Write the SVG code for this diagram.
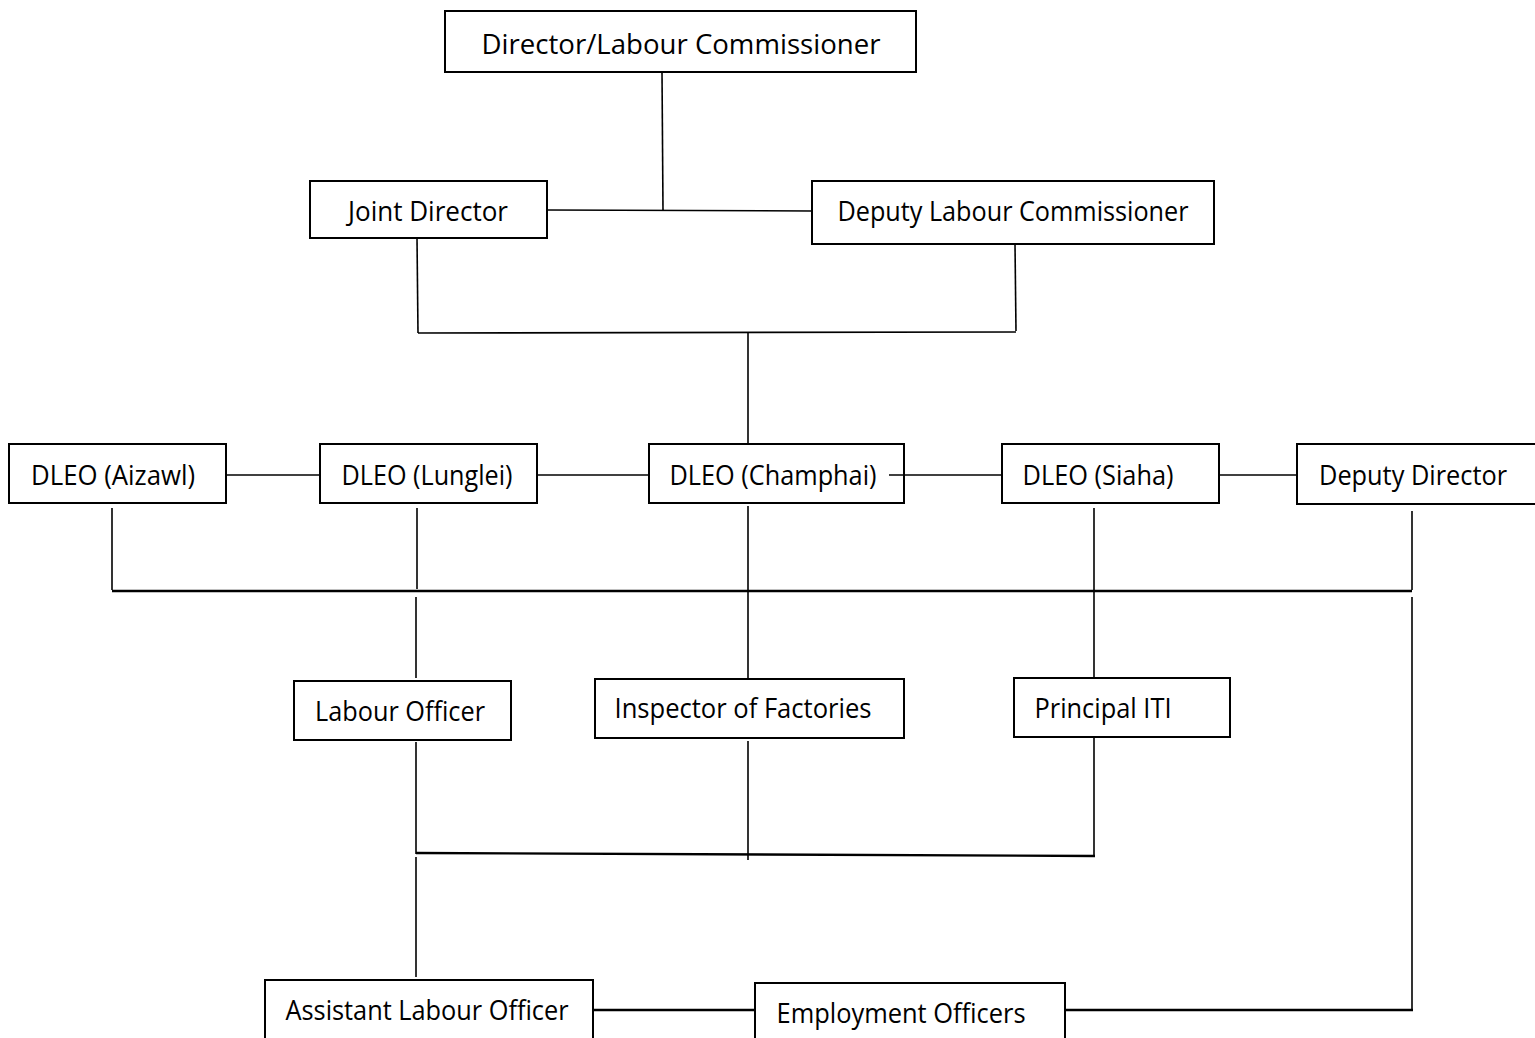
<svg xmlns="http://www.w3.org/2000/svg" width="1535" height="1038" viewBox="0 0 1535 1038">
<style>
.box{fill:#fff;stroke:#000;stroke-width:2}
.lbl{font-family:"Open Sans","Liberation Sans",sans-serif;font-size:28px;fill:#000;text-anchor:middle}
.ln{stroke:#000;stroke-width:1.6;fill:none}
.thick{stroke-width:2.4}
</style>
<rect width="1535" height="1038" fill="#fff"/>
<g id="n-director"><rect class="box" x="445" y="11" width="471" height="61"/><text class="lbl" x="681" y="54" textLength="399" lengthAdjust="spacingAndGlyphs">Director/Labour Commissioner</text></g>
<g id="n-joint"><rect class="box" x="310" y="181" width="237" height="57"/><text class="lbl" x="428" y="221" textLength="160" lengthAdjust="spacingAndGlyphs">Joint Director</text></g>
<g id="n-dlc"><rect class="box" x="812" y="181" width="402" height="63"/><text class="lbl" x="1013" y="221" textLength="351" lengthAdjust="spacingAndGlyphs">Deputy Labour Commissioner</text></g>
<g id="n-aizawl"><rect class="box" x="9" y="444" width="217" height="59"/><text class="lbl" x="113" y="485" textLength="164" lengthAdjust="spacingAndGlyphs">DLEO (Aizawl)</text></g>
<g id="n-lunglei"><rect class="box" x="320" y="444" width="217" height="59"/><text class="lbl" x="427" y="485" textLength="171" lengthAdjust="spacingAndGlyphs">DLEO (Lunglei)</text></g>
<g id="n-champhai"><rect class="box" x="649" y="444" width="255" height="59"/><text class="lbl" x="773" y="485" textLength="207" lengthAdjust="spacingAndGlyphs">DLEO (Champhai)</text></g>
<g id="n-siaha"><rect class="box" x="1002" y="444" width="217" height="59"/><text class="lbl" x="1098" y="485" textLength="151" lengthAdjust="spacingAndGlyphs">DLEO (Siaha)</text></g>
<g id="n-deputydir"><rect class="box" x="1297" y="444" width="240" height="60"/><text class="lbl" x="1413" y="485" textLength="188" lengthAdjust="spacingAndGlyphs">Deputy Director</text></g>
<g id="n-labourofficer"><rect class="box" x="294" y="681" width="217" height="59"/><text class="lbl" x="400" y="721" textLength="170" lengthAdjust="spacingAndGlyphs">Labour Officer</text></g>
<g id="n-inspector"><rect class="box" x="595" y="679" width="309" height="59"/><text class="lbl" x="743" y="718" textLength="257" lengthAdjust="spacingAndGlyphs">Inspector of Factories</text></g>
<g id="n-principal"><rect class="box" x="1014" y="678" width="216" height="59"/><text class="lbl" x="1103" y="718" textLength="137" lengthAdjust="spacingAndGlyphs">Principal ITI</text></g>
<g id="n-alo"><rect class="box" x="265" y="980" width="328" height="70"/><text class="lbl" x="427" y="1020" textLength="283" lengthAdjust="spacingAndGlyphs">Assistant Labour Officer</text></g>
<g id="n-employment"><rect class="box" x="755" y="983" width="310" height="70"/><text class="lbl" x="901" y="1023" textLength="249" lengthAdjust="spacingAndGlyphs">Employment Officers</text></g>
<g id="connectors">
<line class="ln" x1="662" y1="72" x2="663" y2="211"/>
<line class="ln" x1="547" y1="210" x2="812" y2="211"/>
<line class="ln" x1="417" y1="238" x2="418" y2="333"/>
<line class="ln" x1="1015" y1="244" x2="1016" y2="331"/>
<line class="ln" x1="418" y1="333" x2="1016" y2="332"/>
<line class="ln" x1="748" y1="333" x2="748" y2="444"/>
<line class="ln" x1="226" y1="475" x2="320" y2="475"/>
<line class="ln" x1="537" y1="475" x2="649" y2="475"/>
<line class="ln" x1="889" y1="475" x2="1002" y2="475"/>
<line class="ln" x1="1219" y1="475" x2="1297" y2="475"/>
<line class="ln" x1="112" y1="508" x2="112" y2="590"/>
<line class="ln" x1="417" y1="508" x2="417" y2="589"/>
<line class="ln" x1="748" y1="506" x2="748" y2="678"/>
<line class="ln" x1="1094" y1="508" x2="1094" y2="678"/>
<line class="ln" x1="1412" y1="511" x2="1412" y2="590"/>
<line class="ln thick" x1="112" y1="591" x2="1412" y2="591"/>
<line class="ln" x1="416" y1="597" x2="416" y2="678"/>
<line class="ln" x1="1412" y1="597" x2="1412" y2="1011"/>
<line class="ln thick" x1="1065" y1="1010" x2="1413" y2="1010"/>
<line class="ln" x1="416" y1="742" x2="416" y2="854"/>
<line class="ln" x1="748" y1="741" x2="748" y2="860"/>
<line class="ln" x1="1094" y1="737" x2="1094" y2="856"/>
<line class="ln thick" x1="416" y1="853" x2="1095" y2="856"/>
<line class="ln" x1="416" y1="857" x2="416" y2="977"/>
<line class="ln thick" x1="593" y1="1010" x2="755" y2="1010"/>
</g>
</svg>
